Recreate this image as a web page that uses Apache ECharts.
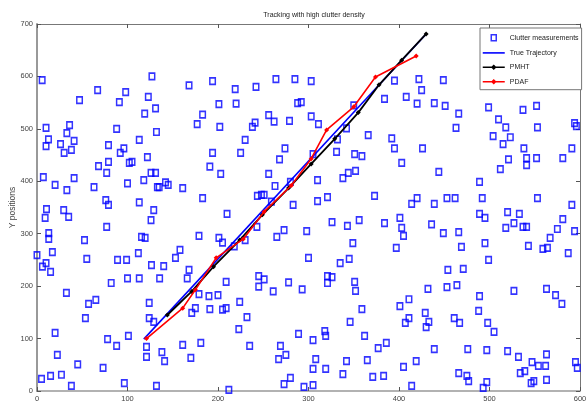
<!DOCTYPE html>
<html><head><meta charset="utf-8">
<script src="https://cdn.jsdelivr.net/npm/echarts@6/dist/echarts.min.js"></script>
<style>html,body{margin:0;padding:0;background:#fff}#c{width:587px;height:403px}</style>
</head><body><div id="c"></div>
<script>
const titleText = 'Tracking with high clutter density';
const yAxisName = 'Y positions';
const seriesNames = ['Clutter measurements', 'True Trajectory', 'PMHT', 'PDAF'];
const xTicks = [0, 100, 200, 300, 400, 500, 600];
const yTicks = [0, 100, 200, 300, 400, 500, 600, 700];

const clutter = [
[5.7,593],[10,502],[12.7,480],[33,492],[36,507],[41,477],[47,555],[67,574],[88,500],[91,551],[98,570],[113,479],[119,529],[123,561],[127,600],[131,539],[132,494],[168,583],[177,509],[183,527],[194,591],[201,547],[202,504],[219,576],[220,548],[230,479],[238,504],[241,512],[242,580],[256,526],[262,514],[264,595],[279,515],[285,595],[288,549],
[292,551],[303,591],[303,524],[311,509],[342,501],[332,480],[366,488],[392,482],[384,557],[395,592],[408,561],[420,548],[422,595],[425,574],[439,549],[449,593],[451,544],[466,529],[463,502],[499,541],[510,518],[518,503],[504,486],[523,484],[537,536],[552,544],[553,503],[594,511],[596,505],[350,545],
[10,467],[26,471],[30,454],[38,460],[79,469],[92,454],[96,463],[122,446],[68,429],[79,437],[77,416],[102,435],[105,437],[126,416],[131,416],[7,408],[41,406],[20,393],[33,383],[63,389],[100,396],[118,402],[133,389],[135,389],[142,398],[145,393],[161,387],[76,364],[79,355],[113,360],[129,345],[126,326],[10.5,347],[9,330],[29.5,345],[35,332],[77,313],[13,301],[13,290],[52.5,288],[115.5,294],[119.5,292],[17,265],[0,259],[55,252],[89,250],[99,250],[112,263],[153,254],[158,269],[6,237],[10,244],[126.5,240],[140,238],[179,296],[183,368],[191,428],[194,454],[203,414],[201,292],[205,283],[210,338],[168,231],[225,454],[218,276],[230,288],[243.5,372],[248,374],[251,374],[243,313],[256,414],[263,391],[259,361],[268,442],[274,463],[283,355],[273,307],[265,294],[280,399],
[395,463],[331,456],[351,452],[359,448],[403,435],[426,463],[444,418],[338,406],[344,416],[352,420],[310,402],[305,452],[515,471],[521,442],[538,463],[541,444],[541,431],[552,444],[512,423],[489,399],[581,444],[591,463],[310,362],[321,370],[373,372],[414,357],[420,368],[439,357],[453,368],[462,368],[492,368],[553,368],[591,355],[298,305],[326,322],[343,315],[356,326],[384,320],[401,330],[403,311],[405,296],[436,318],[449,301],[466,303],[489,338],[495,330],[520,341],[533,338],[518,311],[527,320],[537,313],[541,313],[581,328],[575,309],[594,305],[349,282],[397,273],[469,275],[495,282],[543,277],[567,292],[559,271],[564,273],[587,263],[300,254],[335,244],[345,252],[499,250],[454,231],[471,233],
[15,227],[166,215],[135.5,215],[113,215],[100,215],[82,206],[32.5,187],[57,166],[65,174],[53.5,139],[20,111],[78,99],[88,86],[101,105],[22.5,69],[45,51],[73,44],[5,23],[15,29],[27,31],[38,10],[96.5,15],[132,10],[124,168],[124,139],[129,132],[121,84],[121,65],[138,74],[141,57],[161,88],[170,63],[181,92],[171,149],[175,158],[179,185],[190,181],[200,183],[191,156],[205,155],[209,158],[209,208],[212,2],[223,118],[224,170],[232,141],[235,86],[245,219],[251,213],[245,199],[261,190],[278,207],[269,86],[267,61],[275,69],[273,13],[280,25],[289,109],
[293,194],[321,219],[326,217],[321,206],[351,208],[352,191],[359,156],[401,162],[411,175],[429,149],[433,132],[430,122],[407,130],[411,139],[432,195],[453,198],[464,202],[461,139],[467,130],[488,153],[489,181],[498,130],[505,113],[527,191],[563,195],[573,183],[580,166],[346,132],[318,114],[319,105],[305,97],[362,105],[377,82],[386,92],[439,80],[476,80],[497,78],[520,76],[532,65],[563,70],[595,55],[597,44],[308,61],[305,42],[319,42],[342,57],[338,32],[365,59],[371,27],[383,29],[405,46],[419,57],[295,8],[305,11],[414,10],[466,34],[475,29],[477,19],[497,17],[493,6],[534,34],[539,38],[547,55],[554,48],[562,48],[546,15],[549,19],[563,21]
];

const trueX = [118, 430];
const trueY = [99, 681];
const pmhtX = [144, 171, 195, 224, 249, 278, 303, 329, 355, 378, 403, 430];
const pmhtY = [145, 190, 237, 288, 336, 387, 433, 481, 531, 584, 631, 681];
const pdafX = [121, 161, 175, 198, 228, 251, 281, 303, 320, 350, 374, 419];
const pdafY = [100, 158, 193, 254, 290, 342, 392, 443, 498, 542, 599, 639];

const zip = (a, b) => a.map((v, i) => [v, b[i]]);
const FONT = '"Liberation Sans", Arial, sans-serif';

const chart = echarts.init(document.getElementById('c'), null, {renderer: 'canvas'});
const axisCommon = (showLabel, lineColor, lineWidth) => ({
  axisLine: {show: true, onZero: false, lineStyle: {color: lineColor, width: lineWidth}},
  axisTick: {show: true, inside: true, length: 4, lineStyle: {color: '#555', width: 1}},
  axisLabel: {show: showLabel, fontSize: 7.5, color: '#444', fontFamily: FONT, margin: 4},
  splitLine: {show: false}
});
const lineIcon = 'path://M0,0M22,10M0,4.2h22v1.6h-22z';
const markIcon = 'path://M0,0M22,10M0,4.2h22v1.6h-22zM11,2.2l2.8,2.8l-2.8,2.8l-2.8,-2.8z';
chart.setOption({
  animation: false,
  backgroundColor: '#fff',
  title: {
    text: titleText, left: 309, top: 7, textAlign: 'center',
    textStyle: {fontSize: 7, fontWeight: 'normal', color: '#222', fontFamily: FONT}
  },
  grid: {left: 37, right: 7, top: 24, bottom: 12, containLabel: false, outerBoundsMode: 'none'},
  legend: {
    orient: 'vertical', left: 480, top: 28,
    padding: [4, 3, 3, 2], itemGap: 4.4, itemWidth: 22, itemHeight: 10,
    backgroundColor: '#fff', borderColor: '#777', borderWidth: 1,
    textStyle: {fontSize: 7, color: '#222', fontFamily: FONT},
    data: [
      {name: seriesNames[0], icon: 'path://M0,0M22,10M8.5,2h5v6h-5z',
       itemStyle: {color: 'transparent', borderColor: '#0000ff', borderWidth: 1.5}},
      {name: seriesNames[1], icon: lineIcon, itemStyle: {color: '#0000ff', borderWidth: 0}},
      {name: seriesNames[2], icon: markIcon, itemStyle: {color: '#000', borderWidth: 0}},
      {name: seriesNames[3], icon: markIcon, itemStyle: {color: '#ff0000', borderWidth: 0}}
    ]
  },
  xAxis: [
    Object.assign({type: 'value', min: xTicks[0], max: xTicks[xTicks.length - 1], interval: 100, position: 'bottom'}, axisCommon(true, '#999', 1.5)),
    Object.assign({type: 'value', min: xTicks[0], max: xTicks[xTicks.length - 1], interval: 100, position: 'top'}, axisCommon(false, '#777', 1))
  ],
  yAxis: [
    Object.assign({type: 'value', min: yTicks[0], max: yTicks[yTicks.length - 1], interval: 100, position: 'left',
      name: yAxisName, nameLocation: 'middle', nameGap: 20, nameRotate: 90, nameMoveOverlap: false,
      nameTextStyle: {fontSize: 8.5, color: '#444', fontFamily: FONT}}, axisCommon(true, '#999', 2)),
    Object.assign({type: 'value', min: yTicks[0], max: yTicks[yTicks.length - 1], interval: 100, position: 'right'}, axisCommon(false, '#777', 1))
  ],
  series: [
    {name: seriesNames[0], type: 'scatter', data: clutter, symbol: 'rect', symbolSize: [5.5, 6.5], z: 2,
     itemStyle: {color: 'transparent', borderColor: '#0000ff', borderWidth: 1.6}},
    {name: seriesNames[1], type: 'line', data: zip(trueX, trueY), symbol: 'none', z: 3,
     lineStyle: {color: '#0000ff', width: 1.6}, itemStyle: {color: '#0000ff'}},
    {name: seriesNames[2], type: 'line', data: zip(pmhtX, pmhtY), symbol: 'diamond', symbolSize: 5, z: 4,
     lineStyle: {color: '#000', width: 1.8}, itemStyle: {color: '#000'}},
    {name: seriesNames[3], type: 'line', data: zip(pdafX, pdafY), symbol: 'diamond', symbolSize: 5, z: 5,
     lineStyle: {color: '#ff0000', width: 1.6}, itemStyle: {color: '#ff0000'}}
  ]
});
</script></body></html>
